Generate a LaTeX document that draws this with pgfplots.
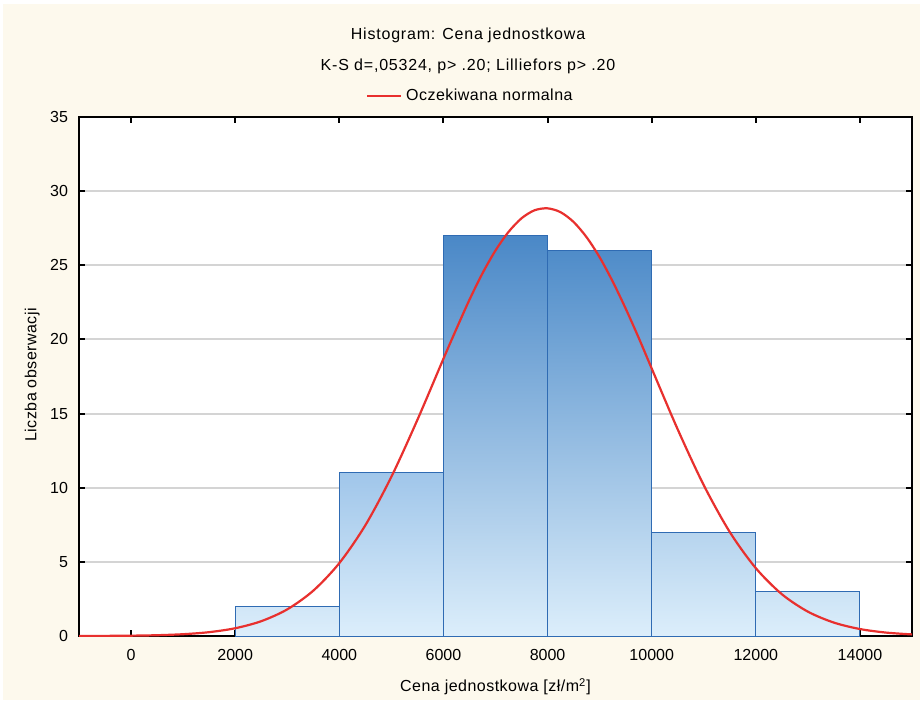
\documentclass[border=0pt]{standalone}
\usepackage{fontspec}
\setmainfont{Liberation Sans}
\newfontfamily\titlefont[LetterSpace=5]{Liberation Sans}
\newfontfamily\labelfont[LetterSpace=3]{Liberation Sans}
\usepackage{pgfplots}
\pgfplotsset{compat=1.18}

% colours
\definecolor{cream}{HTML}{FDF9ED}
\definecolor{gridgray}{HTML}{D4D4D4}
\definecolor{barline}{HTML}{2F6BB3}
\definecolor{barbottom}{HTML}{DCEEFB}
\definecolor{curvered}{HTML}{E8302E}
\definecolor{top2}{HTML}{D1E6F7}
\definecolor{top11}{HTML}{A0C6EA}
\definecolor{top27}{HTML}{4A88C7}
\definecolor{top26}{HTML}{4F8CC9}
\definecolor{top7}{HTML}{B6D4EE}
\definecolor{top3}{HTML}{CCE3F5}

\newcommand\chartfont{\fontsize{8bp}{9.6bp}\selectfont}

% grid under the bars, frame and ticks over them
\pgfplotsset{
  layers/gridbelow/.define layer set={axis background,axis grid,main,axis ticks,axis lines,axis tick labels,axis descriptions,axis foreground}{},
}

\begin{document}
\begin{tikzpicture}[x=1bp,y=1bp]
\fill[white] (0,0) rectangle (461,352);
\fill[cream] (1.5,2) rectangle (460,350);

\node[font=\chartfont\titlefont] at (234,334.5) {Histogram: Cena jednostkowa};
\node[font=\chartfont\titlefont] at (234,319) {K-S d=,05324, p> .20; Lilliefors p> .20};

\begin{axis}[
    set layers=gridbelow,
    at={(39.5bp,34bp)}, anchor=south west,
    scale only axis, width=416.5bp, height=259.5bp,
    xmin=-1000, xmax=15000, ymin=0, ymax=35,
    xtick={0,2000,...,14000}, ytick={0,5,...,35},
    scaled ticks=false,
    /pgf/number format/1000 sep={},
    /pgf/number format/assume math mode=true,
    tick align=inside, major tick length=3bp,
    tick style={black, line width=1bp},
    axis line style={black, line width=1bp},
    axis background/.style={fill=white},
    ymajorgrids, major grid style={gridgray, line width=1bp},
    ticklabel style={font=\chartfont},
    xticklabel style={yshift=-3bp},
    yticklabel style={xshift=-2bp},
    label style={font=\chartfont\labelfont},
    xlabel={Cena jednostkowa [zł/m\textsuperscript{2}]},
    xlabel style={at={(axis description cs:0.5,-0.098)}, anchor=center},
    ylabel={Liczba obserwacji},
    ylabel style={at={(axis description cs:-0.056,0.503)}, anchor=center},
    legend style={at={(axis description cs:0.471,1.040)}, anchor=center,
                  draw=none, fill=none, font=\chartfont\labelfont, inner sep=0pt},
    legend image post style={line width=1bp},
  ]

  \addplot[ybar interval, draw=barline, line width=0.5bp, top color=top2,  bottom color=barbottom, forget plot] coordinates {(2000,2) (4000,2)};
  \addplot[ybar interval, draw=barline, line width=0.5bp, top color=top11, bottom color=barbottom, forget plot] coordinates {(4000,11) (6000,11)};
  \addplot[ybar interval, draw=barline, line width=0.5bp, top color=top27, bottom color=barbottom, forget plot] coordinates {(6000,27) (8000,27)};
  \addplot[ybar interval, draw=barline, line width=0.5bp, top color=top26, bottom color=barbottom, forget plot] coordinates {(8000,26) (10000,26)};
  \addplot[ybar interval, draw=barline, line width=0.5bp, top color=top7,  bottom color=barbottom, forget plot] coordinates {(10000,7) (12000,7)};
  \addplot[ybar interval, draw=barline, line width=0.5bp, top color=top3,  bottom color=barbottom, forget plot] coordinates {(12000,3) (14000,3)};

  \addplot[curvered, line width=1.1bp, smooth, no marks] coordinates {
    (-1000,0.003) (-500,0.009) (0,0.023) (500,0.054) (1000,0.122) (1500,0.260)
    (2000,0.524) (2500,0.999) (3000,1.797) (3500,3.058) (4000,4.917)
    (4500,7.47) (5000,10.74) (5500,14.58) (6000,18.70) (6250,20.72) (6500,22.68)
    (6750,24.46) (7000,26.00) (7250,27.25) (7500,28.17) (7750,28.71)
    (8000,28.84) (8250,28.58) (8500,27.92) (8750,26.89) (9000,25.54)
    (9250,23.91) (9500,22.08) (9750,20.11) (10000,18.04) (10500,13.93) (11000,10.17) (11500,7.01)
    (12000,4.575) (12500,2.819) (13000,1.642) (13500,0.904) (14000,0.470)
    (14500,0.231) (15000,0.107)
  };
  \addlegendentry{Oczekiwana normalna}
\end{axis}
\end{tikzpicture}
\end{document}
